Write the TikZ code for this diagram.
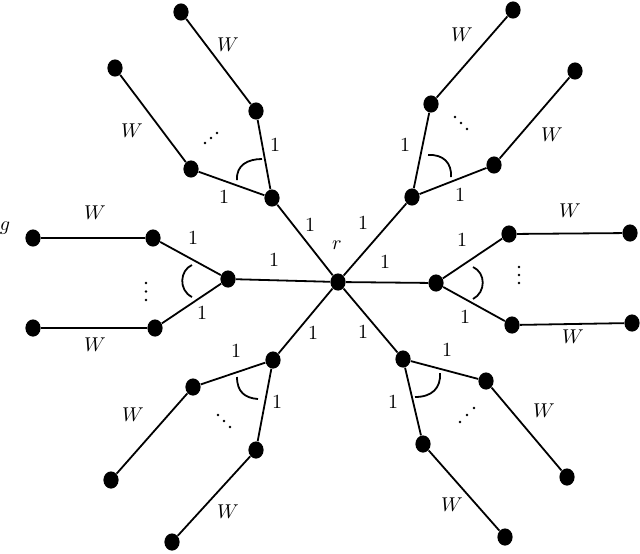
\documentclass[tikz,border=0pt]{standalone}
\usetikzlibrary{shapes.geometric}
\begin{document}
\begin{tikzpicture}[x=0.5pt,y=-0.5pt,
 dot/.style={ellipse,fill=black,inner sep=0pt,minimum width=7.6pt,minimum height=8.6pt},
 edge/.style={line width=0.9pt},
 lbl/.style={inner sep=0pt,font=\normalsize},
 anglearc/.style={line width=0.9pt}]
\useasboundingbox (0,0) rectangle (640,553);
% nodes
\node[dot] (r) at (338,282) {};
\node[dot] (L) at (228,279) {};
\node[dot] (L1) at (153,238) {};
\node[dot] (L2) at (155,328) {};
\node[dot] (Ll1) at (33,238) {};
\node[dot] (Ll2) at (33,328) {};
\node[dot] (R) at (436,283) {};
\node[dot] (R1) at (509,234) {};
\node[dot] (R2) at (512,325) {};
\node[dot] (Rl1) at (630,233) {};
\node[dot] (Rl2) at (632,323) {};
\node[dot] (UL) at (272,198) {};
\node[dot] (UL1) at (256,111) {};
\node[dot] (UL2) at (191,169) {};
\node[dot] (ULl1) at (181,12) {};
\node[dot] (ULl2) at (115,68) {};
\node[dot] (UR) at (412,197) {};
\node[dot] (UR1) at (431,104) {};
\node[dot] (UR2) at (494,165) {};
\node[dot] (URl1) at (513,10) {};
\node[dot] (URl2) at (575,71) {};
\node[dot] (LL) at (273,360) {};
\node[dot] (LL1) at (193,387) {};
\node[dot] (LL2) at (256,450) {};
\node[dot] (LLl1) at (111,480) {};
\node[dot] (LLl2) at (172,542) {};
\node[dot] (LR) at (403,359) {};
\node[dot] (LR1) at (486,381) {};
\node[dot] (LR2) at (423,444) {};
\node[dot] (LRl1) at (567,477) {};
\node[dot] (LRl2) at (505,537) {};
% edges
\foreach \b in {L,R,UL,UR,LL,LR}{
  \draw[edge] (r) -- (\b);
  \draw[edge] (\b) -- (\b1);
  \draw[edge] (\b) -- (\b2);
  \draw[edge] (\b1) -- (\b l1);
  \draw[edge] (\b2) -- (\b l2);
}
% angle arcs
\draw[anglearc] (192,265) .. controls (180,270) and (178,290) .. (192,297);
\draw[anglearc] (473,267) .. controls (486,273) and (486,292) .. (473,299);
\draw[anglearc] (237,180) .. controls (236,165) and (248,159) .. (262,159);
\draw[anglearc] (428,155) .. controls (443,154) and (452,163) .. (451,177);
\draw[anglearc] (237,377) .. controls (237,392) and (245,398) .. (258,399);
\draw[anglearc] (440,373) .. controls (441,388) and (432,397) .. (415,397);
% W labels
\foreach \p/\n in {{(95,213)}/w1,{(95,345)}/w2,{(570,211)}/w3,{(573,337)}/w4,{(228,45)}/w5,{(132,131)}/w6,{(462,35)}/w7,{(552,135)}/w8,{(133,415)}/w9,{(228,512)}/w10,{(544,411)}/w11,{(452,505)}/w12}
  \node[lbl] (\n) at \p {$W$};
% 1 labels
\foreach \p/\n in {{(193,238)}/o1,{(202,313)}/o2,{(274,260)}/o3,{(462,240)}/o4,{(465,317)}/o5,{(385,262)}/o6,{(310,225)}/o7,{(313,333)}/o8,{(363,223)}/o9,{(363,332)}/o10,{(275,145)}/o11,{(224,197)}/o12,{(405,145)}/o13,{(460,195)}/o14,{(236,351)}/o15,{(277,402)}/o16,{(447,350)}/o17,{(393,402)}/o18}
  \node[lbl] (\n) at \p {1};
\node[lbl] (rl) at (337,245) {$r$};
\node[lbl] (gl) at (5,228) {$g$};
% ellipsis dots
\foreach \p in {(146,283),(146,291.5),(146,300),
                (519,267),(519,275),(519,283),
                (205,143),(211,138),(217,133),
                (455,117),(461,123),(467,129),
                (218,415),(224,421),(230,427),
                (460,422),(467,415),(474,408)}
  \fill \p circle (0.7pt);
\end{tikzpicture}
\end{document}
